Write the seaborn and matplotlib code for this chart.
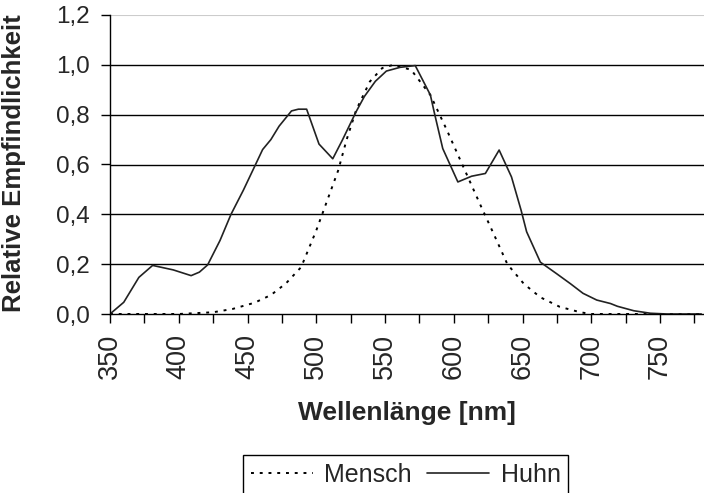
import matplotlib
matplotlib.use("Agg")
import matplotlib.pyplot as plt
import seaborn as sns
import pandas as pd
from matplotlib.ticker import MultipleLocator, FuncFormatter

# Relative Empfindlichkeit, Mensch vs. Huhn
mensch_nm = [350, 400, 425, 439, 455, 467, 478, 489, 500, 508, 516, 522, 529, 539,
             548, 556, 569, 583, 595, 607, 620, 629, 639, 651, 663, 677, 692, 700, 780]
mensch_val = [0, 0, 0.007, 0.02, 0.045, 0.076, 0.123, 0.188, 0.335, 0.456, 0.577, 0.698,
              0.818, 0.933, 0.987, 1.0, 0.98, 0.879, 0.738, 0.59, 0.43, 0.322, 0.2,
              0.121, 0.067, 0.029, 0.007, 0, 0]

huhn_nm = [350, 360, 371, 381, 396, 409, 415, 421, 430, 438, 447, 455, 461, 467, 473,
           482, 487, 493, 502, 512, 519, 529, 535, 543, 551, 561, 572, 583, 586, 592,
           603, 613, 623, 633, 642, 649, 653, 663, 675, 685, 694, 704, 714, 719, 731,
           743, 755, 780]
huhn_val = [0, 0.047, 0.147, 0.195, 0.177, 0.154, 0.168, 0.197, 0.295, 0.40, 0.497,
            0.59, 0.66, 0.70, 0.754, 0.815, 0.822, 0.822, 0.682, 0.623, 0.698, 0.812,
            0.873, 0.934, 0.975, 0.99, 0.997, 0.879, 0.805, 0.664, 0.53, 0.553, 0.564,
            0.658, 0.55, 0.416, 0.33, 0.208, 0.161, 0.121, 0.083, 0.056, 0.042, 0.031,
            0.013, 0.003, 0, 0]

x_labels = [350, 400, 450, 500, 550, 600, 650, 700, 750]

sns.set_style("white")
plt.rcParams["font.family"] = ["Liberation Sans", "DejaVu Sans"]

df_m = pd.DataFrame({"nm": mensch_nm, "val": mensch_val})
df_h = pd.DataFrame({"nm": huhn_nm, "val": huhn_val})

fig = plt.figure(figsize=(7.04, 4.93), dpi=100)
ax = fig.add_axes([110 / 704, 1 - 314 / 493, 594 / 704, 299 / 493])

sns.lineplot(data=df_m, x="nm", y="val", ax=ax, color="black", lw=1.4,
             linestyle=(0, (1.5, 3)), label="Mensch")
sns.lineplot(data=df_h, x="nm", y="val", ax=ax, color="#222222", lw=1.2, label="Huhn")

ax.set_xlim(350, 782)
ax.set_ylim(0, 1.2)
for yv in [0.2, 0.4, 0.6, 0.8, 1.0]:
    ax.axhline(yv, color="black", lw=1.0, zorder=0)
ax.axhline(1.2, color="#cccccc", lw=1.5, zorder=0)

for s in ["top", "right"]:
    ax.spines[s].set_visible(False)
ax.spines["left"].set_color("black")
ax.spines["bottom"].set_color("black")
ax.spines["left"].set_linewidth(1.0)
ax.spines["bottom"].set_linewidth(1.0)

ax.xaxis.set_major_locator(MultipleLocator(25))
ax.xaxis.set_major_formatter(FuncFormatter(lambda v, p: str(int(v)) if int(v) in x_labels else ""))
ax.yaxis.set_major_locator(MultipleLocator(0.2))
ax.yaxis.set_major_formatter(FuncFormatter(lambda v, p: f"{v:.1f}".replace(".", ",")))
ax.tick_params(axis="x", direction="out", length=6.5, width=1, color="black",
               labelsize=19.5, rotation=90, pad=8, bottom=True)
ax.tick_params(axis="y", direction="out", length=6.5, width=1, color="black",
               labelsize=17.5, pad=8, left=True)

ax.set_xlabel("Wellenlänge [nm]", fontsize=19, fontweight="bold")
ax.set_ylabel("Relative Empfindlichkeit", fontsize=18.5, fontweight="bold")
ax.xaxis.set_label_coords(0.5, -0.29)
ax.yaxis.set_label_coords(-0.142, 0.505)

ax.legend(loc="upper left", bbox_to_anchor=(243 / 704, 1 - 455 / 493),
          bbox_transform=fig.transFigure, ncol=2, fontsize=18, frameon=True,
          fancybox=False, edgecolor="black", framealpha=1, handlelength=2.5,
          handletextpad=0.45, columnspacing=0.6, borderpad=0.3, borderaxespad=0)
ax.get_legend().get_frame().set_linewidth(1.0)

fig.savefig("out.png", dpi=100)
